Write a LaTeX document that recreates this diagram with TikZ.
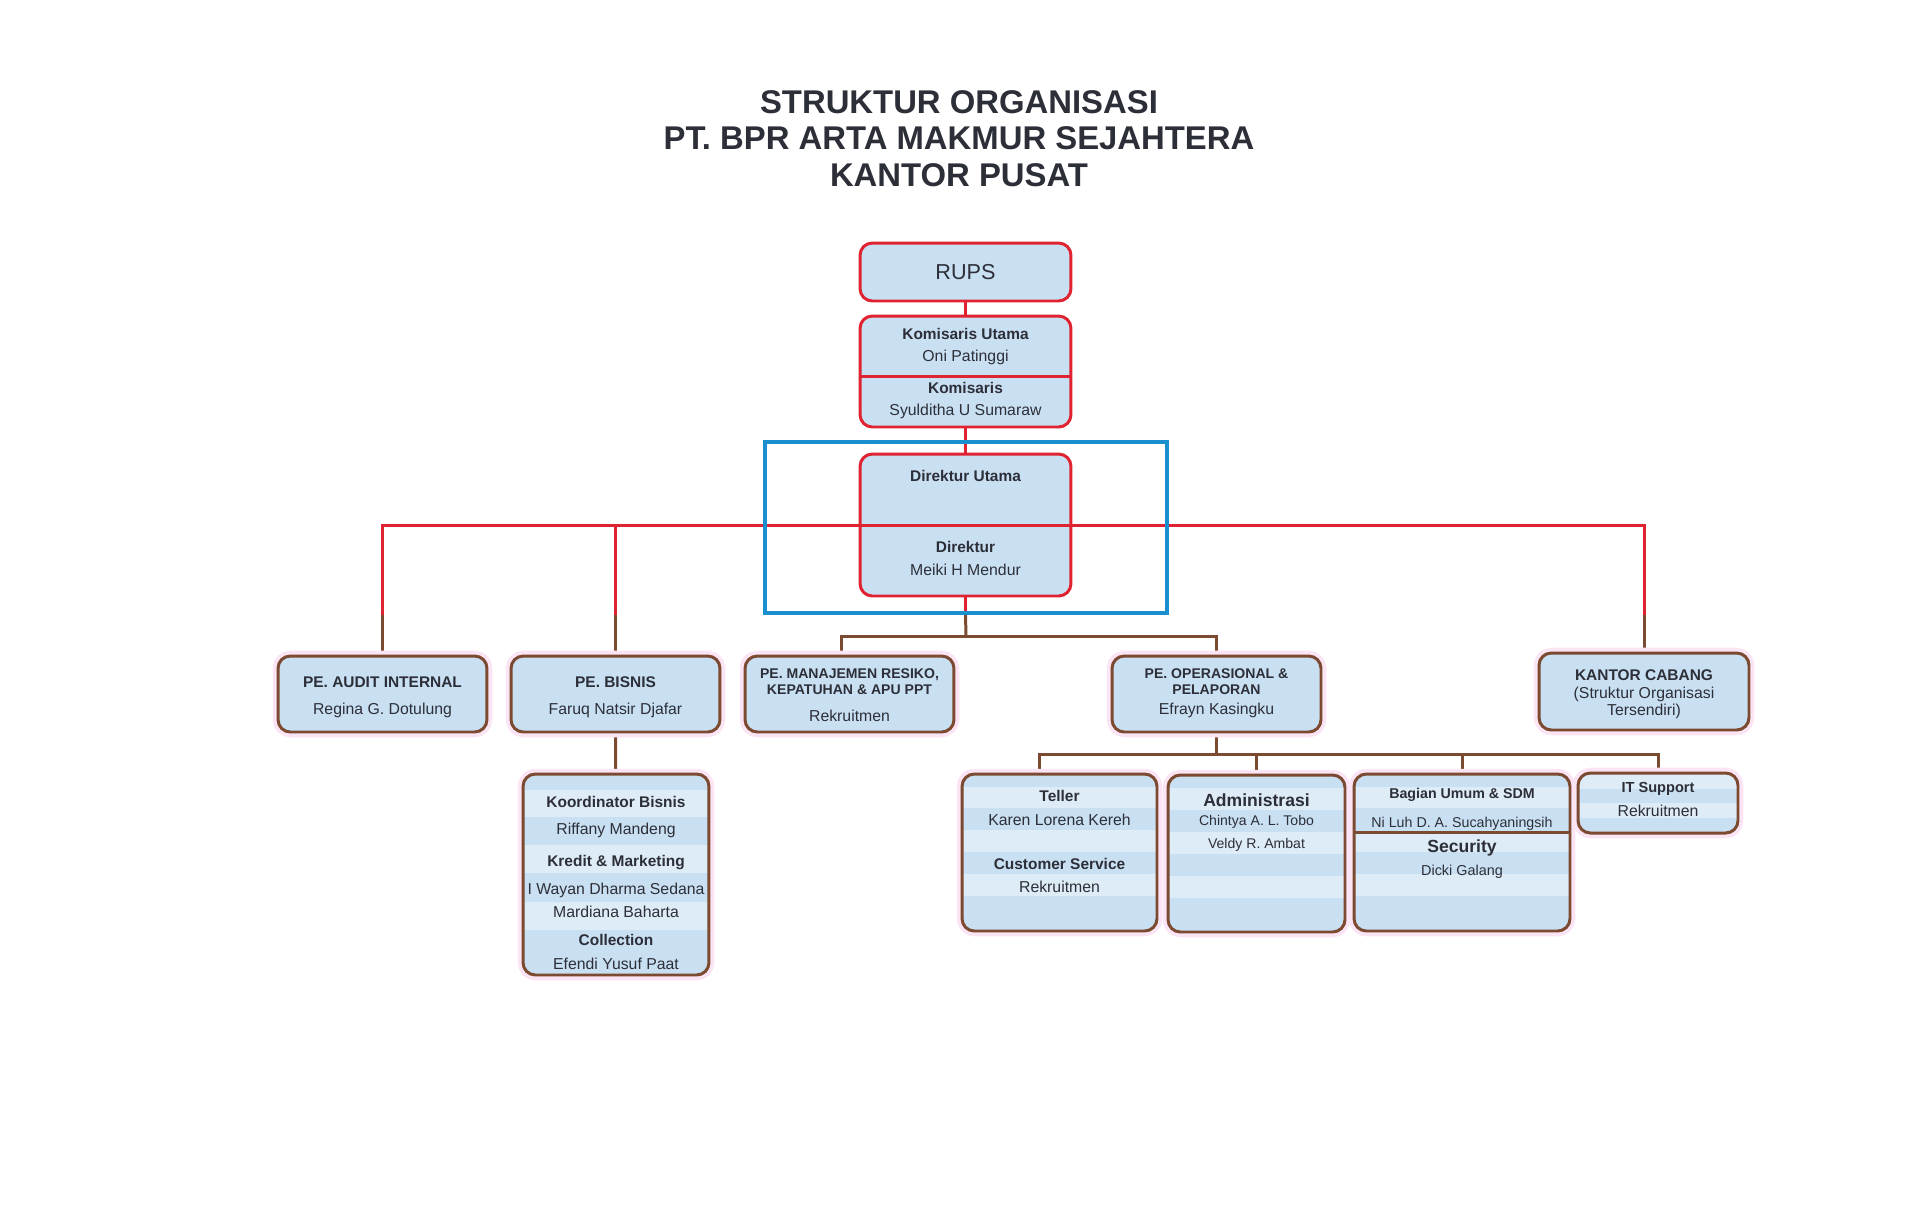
\documentclass[tikz,border=0pt]{standalone}
\usepackage{fontspec}
\setmainfont{Liberation Sans}
\usetikzlibrary{backgrounds}
\definecolor{boxFill}{RGB}{201,224,243}
\definecolor{bandLight}{RGB}{222,236,248}
\definecolor{lineRed}{RGB}{224,35,48}
\definecolor{lineBrown}{RGB}{124,74,48}
\definecolor{frameBlue}{RGB}{26,143,205}
\definecolor{haloPink}{RGB}{251,228,244}
\definecolor{txtDark}{RGB}{45,47,56}

\tikzset{
  redbox/.style={draw=lineRed, line width=1.7pt, fill=boxFill, rounded corners=7pt, inner sep=0pt},
  brownbox/.style={draw=lineBrown, line width=1.7pt, fill=boxFill, rounded corners=7pt, inner sep=0pt,
    preaction={draw=haloPink, line width=6pt}},
  bands/.style={path picture={
      \foreach \a/\b in {#1}
        \fill[bandLight, sharp corners] ([yshift=-\a*0.02cm]path picture bounding box.north west)
          rectangle ([yshift=-\b*0.02cm]path picture bounding box.north east);}},
  redline/.style={draw=lineRed, line width=1.7pt},
  brownline/.style={draw=lineBrown, line width=1.7pt},
  titletxt/.style={font=\bfseries\fontsize{18.7}{20.5}\selectfont, text=txtDark, anchor=base, inner sep=0pt},
  headtxt/.style={font=\bfseries\fontsize{8.8}{10}\selectfont, text=txtDark, anchor=base, inner sep=0pt},
  persontxt/.style={font=\fontsize{9}{10}\selectfont, text=txtDark, anchor=base, inner sep=0pt},
}

\begin{document}
\begin{tikzpicture}[x=0.02cm, y=-0.02cm]
\useasboundingbox (0,0) rectangle (1920,1221);

% title
\node[titletxt] (title1) at (959,113.6) {STRUKTUR ORGANISASI};
\node[titletxt] (title2) at (959,149.6) {PT. BPR ARTA MAKMUR SEJAHTERA};
\node[titletxt] (title3) at (959,186.6) {KANTOR PUSAT};

% top of the chart
\node[redbox, minimum width=4.22cm, minimum height=1.16cm, text=txtDark, font=\fontsize{12.3}{14}\selectfont] (rups) at (965.5,272) {RUPS};
\node[redbox, minimum width=4.22cm, minimum height=2.22cm] (komisaris) at (965.5,371.5) {};
\draw[redline] (860,376) -- (1071,376);
\node[headtxt] (komutamaT) at (965.5,339.5) {Komisaris Utama};
\node[persontxt] (komutamaN) at (965.5,361.5) {Oni Patinggi};
\node[headtxt] (komT) at (965.5,393.5) {Komisaris};
\node[persontxt] (komN) at (965.5,415.5) {Syulditha U Sumaraw};

\node[draw=frameBlue, line width=2.3pt, minimum width=8.04cm, minimum height=3.42cm, inner sep=0pt] (dirframe) at (966,527.5) {};
\node[redbox, minimum width=4.22cm, minimum height=2.84cm] (direktur) at (965.5,525) {};
\draw[redline] (direktur.west) -- (direktur.east);
\node[headtxt] (dirutamaT) at (965.5,481.5) {Direktur Utama};
\node[headtxt] (dirT) at (965.5,552.5) {Direktur};
\node[persontxt] (dirN) at (965.5,575.5) {Meiki H Mendur};

% second row
\node[brownbox, minimum width=4.18cm, minimum height=1.52cm] (audit) at (382.5,694) {};
\node[headtxt] (auditT) at (382.5,687.5) {PE. AUDIT INTERNAL};
\node[persontxt] (auditN) at (382.5,714.5) {Regina G. Dotulung};

\node[brownbox, minimum width=4.18cm, minimum height=1.52cm] (bisnis) at (615.5,694) {};
\node[headtxt] (bisnisT) at (615.5,687.5) {PE. BISNIS};
\node[persontxt] (bisnisN) at (615.5,714.5) {Faruq Natsir Djafar};

\node[brownbox, minimum width=4.18cm, minimum height=1.52cm] (manrisk) at (849.5,694) {};
\node[headtxt, font=\bfseries\fontsize{8}{9}\selectfont] (manriskT1) at (849.5,678) {PE. MANAJEMEN RESIKO,};
\node[headtxt, font=\bfseries\fontsize{8}{9}\selectfont] (manriskT2) at (849.5,694) {KEPATUHAN \& APU PPT};
\node[persontxt] (manriskN) at (849.5,721.5) {Rekruitmen};

\node[brownbox, minimum width=4.18cm, minimum height=1.52cm] (operasional) at (1216.5,694) {};
\node[headtxt, font=\bfseries\fontsize{8}{9}\selectfont] (operasT1) at (1216.5,678) {PE. OPERASIONAL \&};
\node[headtxt, font=\bfseries\fontsize{8}{9}\selectfont] (operasT2) at (1216.5,694) {PELAPORAN};
\node[persontxt] (operasN) at (1216.5,714.5) {Efrayn Kasingku};

\node[brownbox, minimum width=4.2cm, minimum height=1.54cm] (cabang) at (1644,691.5) {};
\node[headtxt] (cabangT) at (1644,680.5) {KANTOR CABANG};
\node[persontxt] (cabangN1) at (1644,698.5) {(Struktur Organisasi};
\node[persontxt] (cabangN2) at (1644,715.5) {Tersendiri)};

% third row
\node[brownbox, bands={16/43,71/99,128/156}, minimum width=3.72cm, minimum height=4.02cm] (koordbisnis) at (616,874.5) {};
\node[headtxt] (koordT) at (616,807.5) {Koordinator Bisnis};
\node[persontxt] (koordN) at (616,834.5) {Riffany Mandeng};
\node[headtxt] (kreditT) at (616,866.5) {Kredit \& Marketing};
\node[persontxt] (kreditN1) at (616,894.5) {I Wayan Dharma Sedana};
\node[persontxt] (kreditN2) at (616,917.5) {Mardiana Baharta};
\node[headtxt] (collectT) at (616,945.5) {Collection};
\node[persontxt] (collectN) at (616,969.5) {Efendi Yusuf Paat};

\node[brownbox, bands={13/34,56/78,100/122}, minimum width=3.9cm, minimum height=3.14cm] (teller) at (1059.5,852.5) {};
\node[headtxt] (tellerT) at (1059.5,801.5) {Teller};
\node[persontxt] (tellerN) at (1059.5,825.5) {Karen Lorena Kereh};
\node[headtxt] (csT) at (1059.5,869.5) {Customer Service};
\node[persontxt] (csN) at (1059.5,892.5) {Rekruitmen};

\node[brownbox, bands={13/35,57/79,101/123}, minimum width=3.54cm, minimum height=3.14cm] (admin) at (1256.5,853.5) {};
\node[headtxt, font=\bfseries\fontsize{10}{11}\selectfont] (adminT) at (1256.5,806) {Administrasi};
\node[persontxt, font=\fontsize{8}{9}\selectfont] (adminN1) at (1256.5,825) {Chintya A. L. Tobo};
\node[persontxt, font=\fontsize{8}{9}\selectfont] (adminN2) at (1256.5,848) {Veldy R. Ambat};

\node[brownbox, bands={13/34,58/78,100/122}, minimum width=4.32cm, minimum height=3.14cm] (umum) at (1462,852.5) {};
\draw[brownline] (1354,832) -- (1570,832);
\node[headtxt, font=\bfseries\fontsize{8.1}{9}\selectfont] (umumT) at (1462,798) {Bagian Umum \& SDM};
\node[persontxt, font=\fontsize{8.1}{9}\selectfont] (umumN) at (1462,827) {Ni Luh D. A. Sucahyaningsih};
\node[headtxt, font=\bfseries\fontsize{10}{11}\selectfont] (securityT) at (1462,852) {Security};
\node[persontxt, font=\fontsize{8.2}{9}\selectfont] (securityN) at (1462,875) {Dicki Galang};

\node[brownbox, bands={0/16,30/45}, minimum width=3.2cm, minimum height=1.2cm] (itsupport) at (1658,803) {};
\node[headtxt, font=\bfseries\fontsize{8.3}{9}\selectfont] (itT) at (1658,792) {IT Support};
\node[persontxt] (itN) at (1658,816.5) {Rekruitmen};

% connectors
\coordinate (redend) at (0,615);
\coordinate (dirsplit) at (966,636);
\coordinate (opsplit) at (1216.5,754);
\begin{scope}[on background layer]
  \draw[redline] (rups) -- (komisaris);
  \draw[redline] (komisaris) -- (direktur);
  \draw[redline] (audit.north |- redend) |- (direktur.west);
  \draw[redline] (direktur.east) -| (cabang.north |- redend);
  \draw[redline] (bisnis.north |- redend) -- (bisnis.north |- direktur.west);
  \draw[brownline] (audit.north) -- (audit.north |- redend);
  \draw[brownline] (bisnis.north) -- (bisnis.north |- redend);
  \draw[brownline] (cabang.north) -- (cabang.north |- redend);
  \draw[redline] (direktur.south) -- (direktur.south |- dirframe.south);
  \draw[brownline] (direktur.south |- dirframe.south) -- (dirsplit);
  \draw[brownline] ([xshift=-0.17cm]manrisk.north) |- (dirsplit) -| (operasional.north);
  \draw[brownline] (bisnis) -- (koordbisnis);
  \draw[brownline] (operasional.south) -- (opsplit);
  \draw[brownline] ([xshift=-0.4cm]teller.north) |- (opsplit) -| (itsupport.north);
  \draw[brownline] (admin.north) -- (admin.north |- opsplit);
  \draw[brownline] (umum.north) -- (umum.north |- opsplit);
\end{scope}
\end{tikzpicture}
\end{document}
